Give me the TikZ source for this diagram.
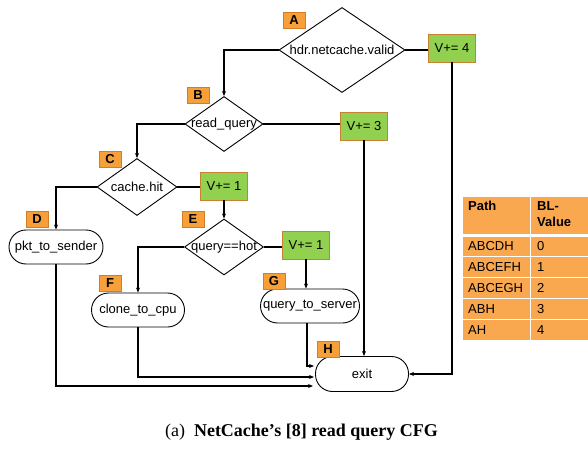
\documentclass[tikz,border=0pt]{standalone}
\usepackage{fontspec}
\setmainfont{Liberation Sans}
\newfontfamily\capfont{Liberation Serif}
\usetikzlibrary{shapes.geometric,arrows.meta}
\definecolor{lblfill}{RGB}{247,160,58}
\definecolor{lbldraw}{RGB}{210,125,40}
\definecolor{grnfill}{RGB}{146,208,80}
\definecolor{grndraw}{RGB}{200,128,50}
\definecolor{tabfill}{RGB}{250,168,80}
\tikzset{
  every node/.style={font=\fontsize{13}{15}\selectfont},
  dia/.style={diamond, draw, line width=0.9pt, inner sep=0pt, fill=white},
  term/.style={rectangle, rounded corners=17pt, draw, line width=0.9pt, inner sep=0pt, fill=white},
  lbl/.style={rectangle, draw=lbldraw, fill=lblfill, line width=0.8pt, minimum width=22pt, minimum height=16pt, inner sep=0pt, font=\fontsize{13}{15}\selectfont\bfseries},
  vbox/.style={rectangle, draw=grndraw, fill=grnfill, line width=0.9pt, minimum width=47pt, minimum height=28pt, inner sep=0pt},
  conn/.style={line width=1.1pt},
  arr/.style={conn, -{Stealth[length=5pt,width=4pt]}},
  tcell/.style={anchor=west, inner sep=0pt, font=\fontsize{13}{15}\selectfont},
}
\begin{document}
\begin{tikzpicture}[x=1pt,y=-1pt]
\useasboundingbox (0,0) rectangle (588,449);
% nodes
\node[dia, minimum width=126pt, minimum height=85pt] (A) at (342,50) {\makebox[0pt]{hdr.netcache.valid}};
\node[lbl] (lA) at (294,20) {A};
\node[vbox] (vA) at (452,48) {V+= 4};
\node[dia, minimum width=78pt, minimum height=55pt] (B) at (224,124) {\makebox[0pt]{read\_query}};
\node[lbl] (lB) at (198,95) {B};
\node[vbox] (vB) at (364,126) {V+= 3};
\node[dia, minimum width=80pt, minimum height=57pt] (C) at (137,187) {\makebox[0pt]{cache.hit}};
\node[lbl] (lC) at (110,159) {C};
\node[vbox] (vC) at (224,186) {V+= 1};
\node[term, minimum width=94pt, minimum height=34pt] (D) at (56,247) {pkt\_to\_sender};
\node[lbl] (lD) at (37,219) {D};
\node[dia, minimum width=79pt, minimum height=56pt] (E) at (224,247) {\makebox[0pt]{query==hot}};
\node[lbl] (lE) at (193,219) {E};
\node[vbox] (vE) at (306,245) {V+= 1};
\node[term, minimum width=93pt, minimum height=34pt] (F) at (138,310) {clone\_to\_cpu};
\node[lbl] (lF) at (110,283) {F};
\node[term, minimum width=99pt, minimum height=34pt] (G) at (310,306) {query\_to\_server};
\node[lbl] (lG) at (274,281) {G};
\node[term, minimum width=93pt, minimum height=35pt] (H) at (362,374) {exit};
\node[lbl] (lH) at (328,349) {H};
\coordinate (g1) at (307,0);
\coordinate (hin) at (314,374);
% connectors
\draw[arr] (A.west) -| (B.north);
\draw[conn] (A.east) -- (A.east -| vA.west);
\draw[arr] (vA.south) |- (H.east);
\draw[arr] (B.west) -| (C.north);
\draw[conn] (B.east) -- (B.east -| vB.west);
\draw[arr] (vB.south) -- (vB.south |- H.north);
\draw[arr] (C.west) -| (D.north);
\draw[conn] (C.east) -- (C.east -| vC.west);
\draw[arr] (vC.south) -- (E.north);
\draw[arr] (E.west) -| (F.north);
\draw[conn] (E.east) -- (E.east -| vE.west);
\draw[arr] (vE.south) -- (vE.south |- G.north);
\draw[arr] (g1 |- G.south) |- ([yshift=8pt]hin);
\draw[arr] (F.south) |- ([yshift=-3pt]hin);
\draw[arr] (D.south) |- ([yshift=-12pt,xshift=-1pt]hin);
% table
\fill[tabfill] (463,197) rectangle (530,234);
\fill[tabfill] (531,197) rectangle (588,234);
\foreach \ya/\yb in {237/256, 257/277, 278/298, 299/319, 320/340}{
  \fill[tabfill] (463,\ya) rectangle (530,\yb);
  \fill[tabfill] (531,\ya) rectangle (588,\yb);
}
\node[anchor=north west, inner sep=0pt, font=\fontsize{13}{15}\selectfont\bfseries] (th1) at (468,201) {Path};
\node[anchor=north west, inner sep=0pt, align=left, font=\fontsize{13}{16}\selectfont\bfseries] (th2) at (537,201) {BL-\\Value};
\node[tcell] (r1a) at (468,246.5) {ABCDH};
\node[tcell] (r1b) at (537,246.5) {0};
\node[tcell] (r2a) at (468,267) {ABCEFH};
\node[tcell] (r2b) at (537,267) {1};
\node[tcell] (r3a) at (468,288) {ABCEGH};
\node[tcell] (r3b) at (537,288) {2};
\node[tcell] (r4a) at (468,309) {ABH};
\node[tcell] (r4b) at (537,309) {3};
\node[tcell] (r5a) at (468,330) {AH};
\node[tcell] (r5b) at (537,330) {4};
% caption
\node[font=\capfont\fontsize{18}{20}\selectfont] (cap) at (301.5,432) {(a)\ \ \textbf{NetCache’s [8] read query CFG}};
\end{tikzpicture}
\end{document}
